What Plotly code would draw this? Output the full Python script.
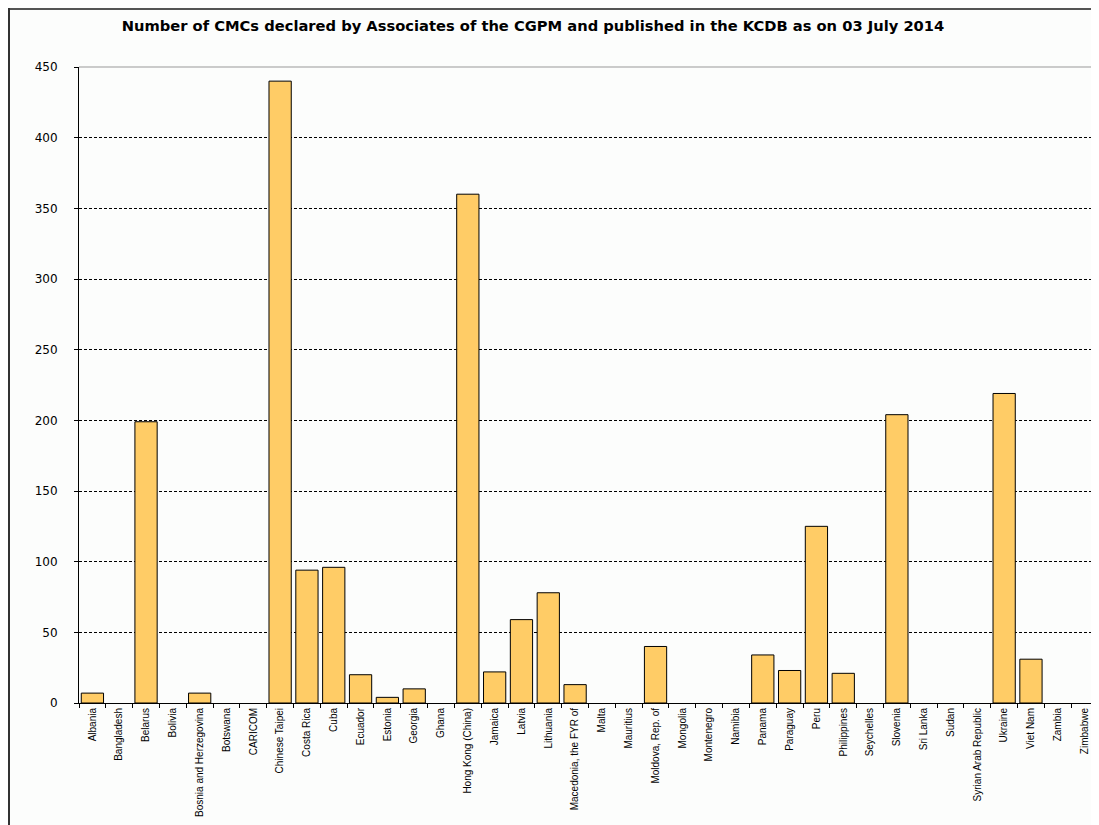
import plotly.graph_objects as go

countries = ["Albania", "Bangladesh", "Belarus", "Bolivia", "Bosnia and Herzegovina", "Botswana",
             "CARICOM", "Chinese Taipei", "Costa Rica", "Cuba", "Ecuador", "Estonia", "Georgia",
             "Ghana", "Hong Kong (China)", "Jamaica", "Latvia", "Lithuania", "Macedonia, the FYR of",
             "Malta", "Mauritius", "Moldova, Rep. of", "Mongolia", "Montenegro", "Namibia", "Panama",
             "Paraguay", "Peru", "Philippines", "Seychelles", "Slovenia", "Sri Lanka", "Sudan",
             "Syrian Arab Republic", "Ukraine", "Viet Nam", "Zambia", "Zimbabwe"]
cmcs = [7, 0, 199, 0, 7, 0,
        0, 440, 94, 96, 20, 4, 10,
        0, 360, 22, 59, 78, 13,
        0, 0, 40, 0, 0, 0, 34,
        23, 125, 21, 0, 204, 0, 0,
        0, 219, 31, 0, 0]
y_ticks = [0, 50, 100, 150, 200, 250, 300, 350, 400, 450]

# page has an 8px body margin; figure is sized to fill the rest of the window
W, H = 1091, 817
L, R, T, B = 71, 1, 59, 122
pw, ph = W - L - R, H - T - B

fig = go.Figure()
fig.add_trace(go.Bar(
    x=countries, y=cmcs,
    marker=dict(color="#FFCC66",
                line=dict(color="#000000", width=[1 if v > 0 else 0 for v in cmcs])),
))

def px2paper_x(px):
    return (px - L) / pw

def px2paper_y(py):
    return (H - B - py) / ph

fig.update_layout(
    width=W, height=H,
    margin=dict(l=L, r=R, t=T, b=B),
    paper_bgcolor="#FCFDFC",
    plot_bgcolor="#FCFDFC",
    bargap=0.17,
    showlegend=False,
    title=dict(
        text="<b>Number of CMCs declared by Associates of the CGPM and published in the KCDB as on 03 July 2014</b>",
        x=525 / W, xanchor="center", xref="container",
        y=1 - 18 / H, yanchor="middle", yref="container",
        font=dict(family="DejaVu Sans", size=14.7, color="#000000"),
    ),
    xaxis=dict(
        type="category",
        tickangle=-90,
        tickfont=dict(family="Liberation Sans, Arial", size=10, color="#000000"),
        showline=True, linecolor="#000000", linewidth=1,
        ticks="outside", tickson="boundaries", ticklen=4, tickcolor="#000000",
        showgrid=False,
        range=[-0.5, len(countries) - 0.5],
    ),
    yaxis=dict(
        range=[0, 450],
        tickvals=y_ticks,
        tickfont=dict(family="DejaVu Sans", size=12, color="#000000"),
        showline=True, linecolor="#000000", linewidth=1,
        ticks="outside", ticklen=4, tickcolor="#000000",
        ticklabelstandoff=14,
        showgrid=True, gridcolor="#000000", gridwidth=1, griddash="3px,2px",
        zeroline=False,
    ),
    shapes=[
        # plot area top and right frame
        dict(type="line", xref="paper", yref="paper", x0=0, x1=1, y0=1, y1=1,
             line=dict(color="#999999", width=1)),
        dict(type="line", xref="paper", yref="paper", x0=1, x1=1, y0=0, y1=1,
             line=dict(color="#888888", width=2)),
        # outer frame top and left
        dict(type="line", xref="paper", yref="paper",
             x0=px2paper_x(1), x1=px2paper_x(W - 0.5), y0=px2paper_y(1), y1=px2paper_y(1),
             line=dict(color="#555555", width=2)),
        dict(type="line", xref="paper", yref="paper",
             x0=px2paper_x(1), x1=px2paper_x(1), y0=px2paper_y(0), y1=px2paper_y(H + 5),
             line=dict(color="#333333", width=2)),
    ],
)

fig.write_html("out.html")
